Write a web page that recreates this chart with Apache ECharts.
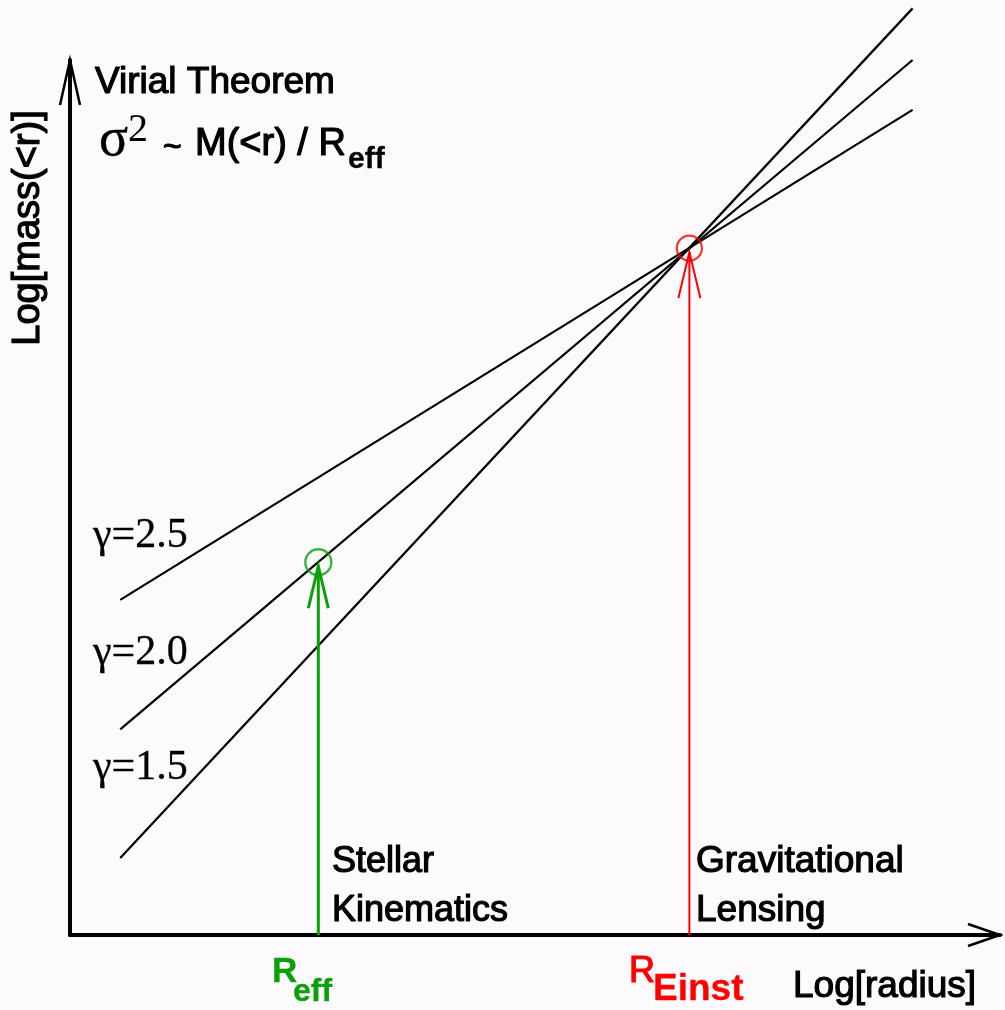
<!DOCTYPE html>
<html>
<head>
<meta charset="utf-8">
<script src="https://cdn.jsdelivr.net/npm/echarts@6/dist/echarts.min.js"></script>
<style>
html,body{margin:0;padding:0;background:#fcfafc;}
#chart{width:1005px;height:1010px;}
</style>
</head>
<body>
<div id="chart"></div>
<script>
// ---- data (arbitrary log units) ----
const radiusRange = [0, 10];
const massRange = [0, 10];
const lineRadius = [0.54, 9.06];          // start / end of the three power laws
const massGamma25 = [3.83, 9.43];
const massGamma20 = [2.35, 10.0];
const massGamma15 = [0.88, 10.59];
const gammaLabels = ['γ=2.5', 'γ=2.0', 'γ=1.5'];
const stellarPoint = [2.67, 4.26];        // R_eff , mass
const lensingPoint = [6.66, 7.85];        // R_Einst , mass
const xAxisName = 'Log[radius]';
const yAxisName = 'Log[mass(<r)]';

const GREEN = '#0aa00a';
const RED = '#ff0000';
const SANS = 'Liberation Sans, Arial, sans-serif';
const SERIF = 'Liberation Serif, Times New Roman, serif';

function pair(ys) { return [[lineRadius[0], ys[0]], [lineRadius[1], ys[1]]]; }

function lineSeries(ys) {
  return {
    type: 'line', data: pair(ys), symbol: 'none', clip: false, silent: true,
    lineStyle: { color: '#000', width: 2.2 }, z: 3
  };
}

function arrowSeries(pt, color, w, headW, headH) {
  return {
    type: 'custom', clip: false, silent: true, z: 4,
    data: [pt],
    renderItem: function (params, api) {
      const tip = api.coord([api.value(0), api.value(1)]);
      const base = api.coord([api.value(0), 0]);
      const ty = tip[1] + 4;
      return {
        type: 'group',
        children: [
          { type: 'line', shape: { x1: tip[0], y1: base[1], x2: tip[0], y2: ty },
            style: { stroke: color, lineWidth: w } },
          { type: 'polyline', shape: { points: [[tip[0] - headW, ty + headH], [tip[0], ty], [tip[0] + headW, ty + headH]] },
            style: { stroke: color, lineWidth: w, fill: null } }
        ]
      };
    }
  };
}

function txt(text, x, y, font, color, sw, extra) {
  return Object.assign({
    type: 'text', x: x, y: y, silent: true, z: 10,
    style: { text: text, font: font, fill: color, textAlign: 'left', textVerticalAlign: 'middle',
      stroke: sw ? color : null, lineWidth: sw || 0 }
  }, extra || {});
}

const chart = echarts.init(document.getElementById('chart'));
chart.setOption({
  animation: false,
  backgroundColor: '#fcfafc',
  grid: { left: 70, right: 5, top: 60, bottom: 75 },
  xAxis: {
    type: 'value', min: radiusRange[0], max: radiusRange[1],
    axisLine: { show: true, lineStyle: { color: '#000', width: 4 } },
    axisTick: { show: false }, axisLabel: { show: false }, splitLine: { show: false }
  },
  yAxis: {
    type: 'value', min: massRange[0], max: massRange[1],
    axisLine: { show: true, lineStyle: { color: '#000', width: 4 } },
    axisTick: { show: false }, axisLabel: { show: false }, splitLine: { show: false }
  },
  series: [
    lineSeries(massGamma25),
    lineSeries(massGamma20),
    lineSeries(massGamma15),
    arrowSeries(stellarPoint, GREEN, 3, 10, 42),
    arrowSeries(lensingPoint, RED, 2, 11, 46),
    {
      type: 'scatter', data: [stellarPoint], symbol: 'circle', symbolSize: 26, z: 5, silent: true,
      itemStyle: { color: 'rgba(0,0,0,0)', borderColor: GREEN, borderWidth: 2.4 }
    },
    {
      type: 'scatter', data: [lensingPoint], symbol: 'circle', symbolSize: 25, z: 5, silent: true,
      itemStyle: { color: 'rgba(0,0,0,0)', borderColor: RED, borderWidth: 2.2 }
    },
    {
      // open arrowheads on the two axes
      type: 'custom', clip: false, silent: true, z: 6, data: [[0, 0]],
      renderItem: function (params, api) {
        const cs = params.coordSys;
        const x0 = cs.x, y0 = cs.y + cs.height, top = cs.y, right = cs.x + cs.width;
        const st = { stroke: '#000', lineWidth: 2.5, fill: null };
        return {
          type: 'group',
          children: [
            { type: 'polyline', shape: { points: [[x0 - 10, top + 45], [x0, top], [x0 + 10, top + 45]] }, style: st },
            { type: 'polyline', shape: { points: [[right - 32, y0 - 11], [right, y0], [right - 32, y0 + 11]] }, style: st }
          ]
        };
      }
    }
  ],
  graphic: [
    txt('Virial Theorem', 95, 83, '37px ' + SANS, '#000', 1.2),
    txt('σ', 99, 141, '54px ' + SERIF, '#000', 0.4),
    txt('2', 128, 130, '40px ' + SERIF, '#000', 0),
    txt('~', 163, 148, '32px ' + SANS, '#000', 1.2),
    txt('M(<r) / R', 195, 145, '38px ' + SANS, '#000', 1.2),
    txt('eff', 348, 160, 'bold 30px ' + SANS, '#000', 0.3),
    txt(yAxisName, 29, 228, '38px ' + SANS, '#000', 1.2, { rotation: Math.PI / 2,
      style: { text: yAxisName, font: '38px ' + SANS, fill: '#000', stroke: '#000', lineWidth: 1.2, textAlign: 'center', textVerticalAlign: 'middle' } }),
    txt(gammaLabels[0], 93, 536, '42px ' + SERIF, '#000', 0.3),
    txt(gammaLabels[1], 93, 653, '42px ' + SERIF, '#000', 0.3),
    txt(gammaLabels[2], 93, 768, '42px ' + SERIF, '#000', 0.3),
    txt('Stellar', 332, 862, '36px ' + SANS, '#000', 1.2),
    txt('Kinematics', 332, 911, '36px ' + SANS, '#000', 1.2),
    txt('Gravitational', 696, 862, '37px ' + SANS, '#000', 1.2),
    txt('Lensing', 696, 911, '37px ' + SANS, '#000', 1.2),
    txt(xAxisName, 793, 987, '37px ' + SANS, '#000', 1.2),
    txt('R', 272, 972, 'bold 35px ' + SANS, GREEN, 0.3),
    txt('eff', 293, 992, 'bold 32px ' + SANS, GREEN, 0.3),
    txt('R', 629, 972, '36px ' + SANS, RED, 1.2),
    txt('Einst', 653, 990, 'bold 37px ' + SANS, RED, 0.3)
  ]
});
</script>
</body>
</html>
